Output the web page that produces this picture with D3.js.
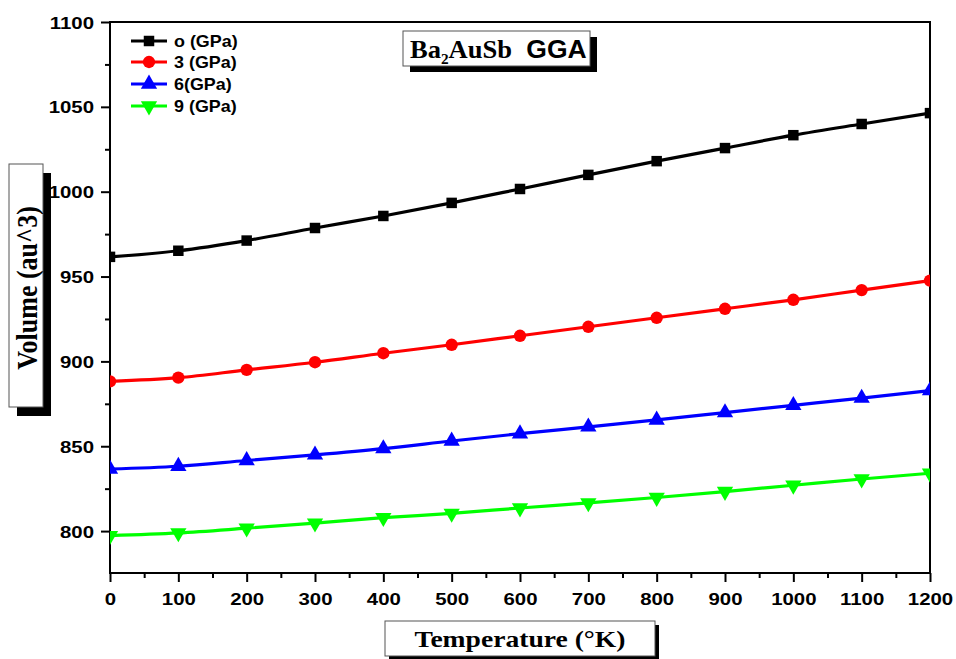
<!DOCTYPE html>
<html>
<head>
<meta charset="utf-8">
<script src="https://cdn.jsdelivr.net/npm/d3@7"></script>
<style>
  html, body { margin: 0; padding: 0; background: #fff; }
  svg { display: block; }
</style>
</head>
<body>
<svg id="chart" width="956" height="659"></svg>
<script>
// Temperature grid (K) and cell volume (au^3) at each pressure
const temperatures = [0, 100, 200, 300, 400, 500, 600, 700, 800, 900, 1000, 1100, 1200];
const vol0GPa = [961.6, 965.2, 971.2, 978.6, 985.7, 993.4, 1001.6, 1009.9, 1018.0, 1025.7, 1033.3, 1039.9, 1046.3];
const vol3GPa = [888.2, 890.4, 895.0, 899.5, 904.8, 909.8, 915.1, 920.4, 925.7, 931.0, 936.3, 942.0, 947.6];
const vol6GPa = [836.6, 838.2, 841.6, 844.9, 848.6, 853.1, 857.4, 861.4, 865.5, 869.8, 874.1, 878.4, 882.8];
const vol9GPa = [797.3, 798.9, 801.7, 804.7, 807.9, 810.4, 813.6, 816.6, 819.8, 823.3, 827.0, 830.7, 834.1];

const seriesNames = ["o (GPa)", "3 (GPa)", "6(GPa)", "9 (GPa)"];
const seriesColors = ["#000000", "#ff0000", "#0000ff", "#00ff00"];
const seriesSymbols = ["square", "circle", "triangle", "triangleDown"];
const seriesValues = [vol0GPa, vol3GPa, vol6GPa, vol9GPa];

const xTicks = [0, 100, 200, 300, 400, 500, 600, 700, 800, 900, 1000, 1100, 1200];
const yTicks = [800, 850, 900, 950, 1000, 1050, 1100];

const svg = d3.select("#chart");
const plot = { left: 110, right: 930, top: 22, bottom: 573 };
const stretch = 1.2; // horizontal text stretch

const x = d3.scaleLinear().domain([0, 1200]).range([plot.left, plot.right]);
const y = d3.scaleLinear().domain([775.3, 1100]).range([plot.bottom, plot.top]);

svg.append("defs").append("clipPath").attr("id", "plotClip")
  .append("rect")
  .attr("x", plot.left).attr("y", plot.top)
  .attr("width", plot.right - plot.left).attr("height", plot.bottom - plot.top);

// Minor ticks
const xMinor = d3.range(50, 1200, 100);
const yMinor = d3.range(800, 1100, 25).filter(v => v % 50 !== 0);
svg.append("g").attr("transform", `translate(0,${plot.bottom})`)
  .call(d3.axisBottom(x).tickValues(xMinor).tickSize(5).tickFormat(""))
  .call(g => g.select(".domain").remove())
  .selectAll("line").attr("stroke-width", 2);
svg.append("g").attr("transform", `translate(${plot.left},0)`)
  .call(d3.axisLeft(y).tickValues(yMinor).tickSize(5).tickFormat(""))
  .call(g => g.select(".domain").remove())
  .selectAll("line").attr("stroke-width", 2);

// Major ticks and labels
const xAxis = svg.append("g").attr("transform", `translate(0,${plot.bottom})`)
  .call(d3.axisBottom(x).tickValues(xTicks).tickSize(9).tickPadding(0).tickFormat(d3.format("d")));
xAxis.select(".domain").remove();
xAxis.selectAll("line").attr("stroke-width", 2);
xAxis.selectAll("text")
  .attr("y", 0).attr("dy", null)
  .attr("transform", `translate(0,32) scale(${stretch},1)`)
  .style("font-family", "Arial, 'Liberation Sans', sans-serif")
  .style("font-weight", "bold").style("font-size", "17px").attr("fill", "#000");

const yAxis = svg.append("g").attr("transform", `translate(${plot.left},0)`)
  .call(d3.axisLeft(y).tickValues(yTicks).tickSize(9).tickPadding(0).tickFormat(d3.format("d")));
yAxis.select(".domain").remove();
yAxis.selectAll("line").attr("stroke-width", 2);
yAxis.selectAll("text")
  .attr("x", 0).attr("dy", "0.36em")
  .attr("transform", `translate(-16,0) scale(${stretch},1)`)
  .style("font-family", "Arial, 'Liberation Sans', sans-serif")
  .style("font-weight", "bold").style("font-size", "17px").attr("fill", "#000");

// Frame
svg.append("rect")
  .attr("x", plot.left).attr("y", plot.top)
  .attr("width", plot.right - plot.left).attr("height", plot.bottom - plot.top)
  .attr("fill", "none").attr("stroke", "#000").attr("stroke-width", 2);

// Series
const symbolFor = name => {
  if (name === "square") return d3.symbol().type(d3.symbolSquare).size(110)();
  if (name === "circle") return d3.symbol().type(d3.symbolCircle).size(120)();
  return d3.symbol().type(d3.symbolTriangle).size(115)();
};

const line = d3.line().x(d => x(d.t)).y(d => y(d.v)).curve(d3.curveMonotoneX);
const dataLayer = svg.append("g").attr("clip-path", "url(#plotClip)");

seriesValues.forEach((vals, i) => {
  const pts = temperatures.map((t, k) => ({ t, v: vals[k] }));
  dataLayer.append("path").datum(pts)
    .attr("d", line).attr("fill", "none")
    .attr("stroke", seriesColors[i]).attr("stroke-width", 3.2);
  dataLayer.selectAll(null).data(pts).enter().append("path")
    .attr("d", symbolFor(seriesSymbols[i]))
    .attr("transform", d => `translate(${x(d.t)},${y(d.v)})` + (seriesSymbols[i] === "triangleDown" ? " rotate(180)" : ""))
    .attr("fill", seriesColors[i]);
});

// Legend
const legendY = [41, 62, 84, 106];
seriesNames.forEach((name, i) => {
  const g = svg.append("g").attr("transform", `translate(0,${legendY[i]})`);
  g.append("line").attr("x1", 131).attr("x2", 167).attr("y1", 0).attr("y2", 0)
    .attr("stroke", seriesColors[i]).attr("stroke-width", 3.2);
  g.append("path").attr("d", symbolFor(seriesSymbols[i]))
    .attr("transform", `translate(149,0)` + (seriesSymbols[i] === "triangleDown" ? " rotate(180)" : ""))
    .attr("fill", seriesColors[i]);
  g.append("text").attr("transform", `translate(174,0) scale(1.12,1)`)
    .attr("dy", "0.36em")
    .style("font-family", "Arial, 'Liberation Sans', sans-serif")
    .style("font-weight", "bold").style("font-size", "16px")
    .text(name);
});

// Boxed label with drop shadow
function shadowBox(bx, by, bw, bh, dx, dy) {
  svg.append("rect").attr("x", bx + dx).attr("y", by + dy).attr("width", bw).attr("height", bh).attr("fill", "#000");
  svg.append("rect").attr("x", bx).attr("y", by).attr("width", bw).attr("height", bh)
    .attr("fill", "#fff").attr("stroke", "#555").attr("stroke-width", 1);
}

// Title
shadowBox(403, 31, 187, 35, 7, 6);
const title = svg.append("text").attr("transform", "translate(410,58) scale(1.02,1)")
  .style("font-weight", "bold").style("font-size", "26px");
title.append("tspan").style("font-family", "'Liberation Serif', 'Times New Roman', serif").text("Ba");
title.append("tspan").style("font-family", "'Liberation Serif', 'Times New Roman', serif")
  .style("font-size", "15px").attr("dy", 6).text("2");
title.append("tspan").style("font-family", "'Liberation Serif', 'Times New Roman', serif")
  .attr("dy", -6).text("AuSb");
title.append("tspan").style("font-family", "Arial, 'Liberation Sans', sans-serif")
  .attr("dx", 14).text("GGA");

// Y axis label
shadowBox(9, 164, 34, 243, 8, 9);
svg.append("text")
  .attr("transform", `translate(27,288) scale(1.1,1) rotate(-90)`)
  .attr("text-anchor", "middle").attr("dy", "0.35em")
  .style("font-family", "'Liberation Serif', 'Times New Roman', serif")
  .style("font-weight", "bold").style("font-size", "26px")
  .text("Volume (au^3)");

// X axis label
shadowBox(385, 621, 270, 35, 4, 4);
svg.append("text")
  .attr("transform", `translate(520,639) scale(${stretch},1)`)
  .attr("text-anchor", "middle").attr("dy", "0.35em")
  .style("font-family", "'Liberation Serif', 'Times New Roman', serif")
  .style("font-weight", "bold").style("font-size", "23px")
  .text("Temperature (°K)");
</script>
</body>
</html>
